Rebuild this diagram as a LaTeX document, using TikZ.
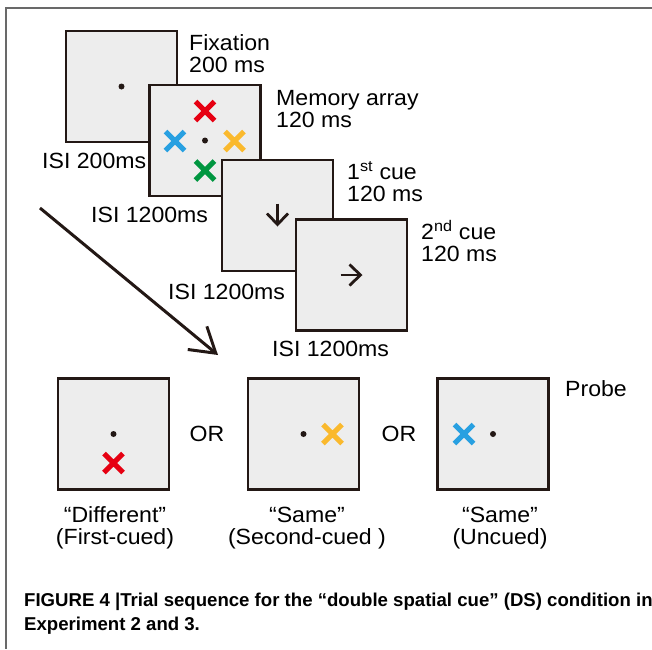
\documentclass[tikz,border=0pt]{standalone}
\usepackage{fontspec}
\setmainfont{Liberation Sans}
\newfontfamily\labelfont[FakeStretch=1.05]{Liberation Sans}
\usetikzlibrary{positioning}
\usetikzlibrary{shapes.misc}
\usetikzlibrary{arrows.meta}

\definecolor{screenfill}{RGB}{237,237,237}
\definecolor{screenline}{RGB}{35,24,21}
\definecolor{itemred}{RGB}{230,0,18}
\definecolor{itemblue}{RGB}{40,160,225}
\definecolor{itemyellow}{RGB}{250,185,45}
\definecolor{itemgreen}{RGB}{0,150,64}
\definecolor{framegray}{RGB}{105,105,105}

\begin{document}
\begin{tikzpicture}
        [
            x=1pt, y=-1pt,
            screen/.style={rectangle, draw=screenline, fill=screenfill, line width=2.8pt, minimum width=111pt, minimum height=111pt, inner sep=0pt},
            item/.style={cross out, draw, line width=5pt, minimum size=14pt, inner sep=0pt},
            fixdot/.style={circle, fill=screenline, minimum size=6pt, inner sep=0pt},
            timing/.style={font=\labelfont\fontsize{22}{22.7}\selectfont, inner sep=0pt, anchor=base west, align=left},
            answer/.style={font=\labelfont\fontsize{22}{21.5}\selectfont, inner sep=0pt, anchor=base, align=center},
            caption/.style={font=\bfseries\fontsize{18.6}{24}\selectfont, inner sep=0pt, anchor=base west, align=left},
            cuearrow/.style={-{Straight Barb[length=11pt, width=21pt]}, line width=2.8pt, screenline},
            flow/.style={-{Straight Barb[length=24pt, width=30pt]}, line width=3pt, screenline}
        ]
        \useasboundingbox (0,0) rectangle (652,649);
        %frame
        \draw[framegray, line width=1.5pt] (652,8) -- (6,8) -- (6,649);
        %screens of the trial
        \node[screen] at (121.5,86.5)   (fixation)  {};
        \node[fixdot] at (121.5,86.5)   (fixdot)    {};
        \node[screen] at (205,140.5)    (memory)    {};
        \node[fixdot] at (205,140.5)    (memdot)    {};
        \node[item, draw=itemred]    at (205,111)   (memred)    {};
        \node[item, draw=itemblue]   at (175,141)   (memblue)   {};
        \node[item, draw=itemyellow] at (234.5,141) (memyellow) {};
        \node[item, draw=itemgreen]  at (205,170.5) (memgreen)  {};
        \node[screen] at (277.5,215.5)  (cueone)    {};
        \node[screen] at (351.5,275)    (cuetwo)    {};
        \draw[cuearrow] ([yshift=12pt]cueone.center) -- ([yshift=-11pt]cueone.center);
        \draw[cuearrow] ([xshift=-11pt]cuetwo.center) -- ([xshift=11pt]cuetwo.center);
        %probe screens
        \node[screen] at (113.5,434)    (probe_a)   {};
        \node[fixdot] at (113.5,434)    (dot_a)     {};
        \node[item, draw=itemred]    at (113.5,463) (red_a)     {};
        \node[screen] at (303.5,434)    (probe_b)   {};
        \node[fixdot] at (303.5,434)    (dot_b)     {};
        \node[item, draw=itemyellow] at (332.5,434) (yellow_b)  {};
        \node[screen] at (493,434)      (probe_c)   {};
        \node[fixdot] at (493,434)      (dot_c)     {};
        \node[item, draw=itemblue]   at (464,434)   (blue_c)    {};
        %labels
        \node[timing] at (189,72.7)     (fixation_t)    {Fixation\\200 ms};
        \node[timing] at (276,127.7)    (memory_t)      {Memory array\\120 ms};
        \node[timing] at (347,201.7)    (cueone_t)      {1\textsuperscript{st} cue\\120 ms};
        \node[timing] at (421,261.7)    (cuetwo_t)      {2\textsuperscript{nd} cue\\120 ms};
        \node[timing] at (42,168.3)     (isi_a)         {ISI 200ms};
        \node[timing] at (91,222.7)     (isi_b)         {ISI 1200ms};
        \node[timing] at (168,299)      (isi_c)         {ISI 1200ms};
        \node[timing] at (272,356)      (isi_d)         {ISI 1200ms};
        \node[timing] at (565,396.7)    (probe_t)       {Probe};
        \node[answer] at (207,441.7)    (or_a)          {OR};
        \node[answer] at (399,441.7)    (or_b)          {OR};
        \node[answer] at (115,544)      (answer_a)      {“Different”\\(First-cued)};
        \node[answer] at (307,544)      (answer_b)      {“Same”\\(Second-cued )};
        \node[answer] at (500,544)      (answer_c)      {“Same”\\(Uncued)};
        \node[caption] at (24,630.7)    (caption_t)     {FIGURE 4 |Trial sequence for the “double spatial cue” (DS) condition in\\Experiment 2 and 3.};
        %arrow to the probes
        \coordinate (flow_start) at (40,208);
        \coordinate (flow_end)   at (218,355);
        \draw[flow] (flow_start) -- (flow_end);
    \end{tikzpicture}
\end{document}
